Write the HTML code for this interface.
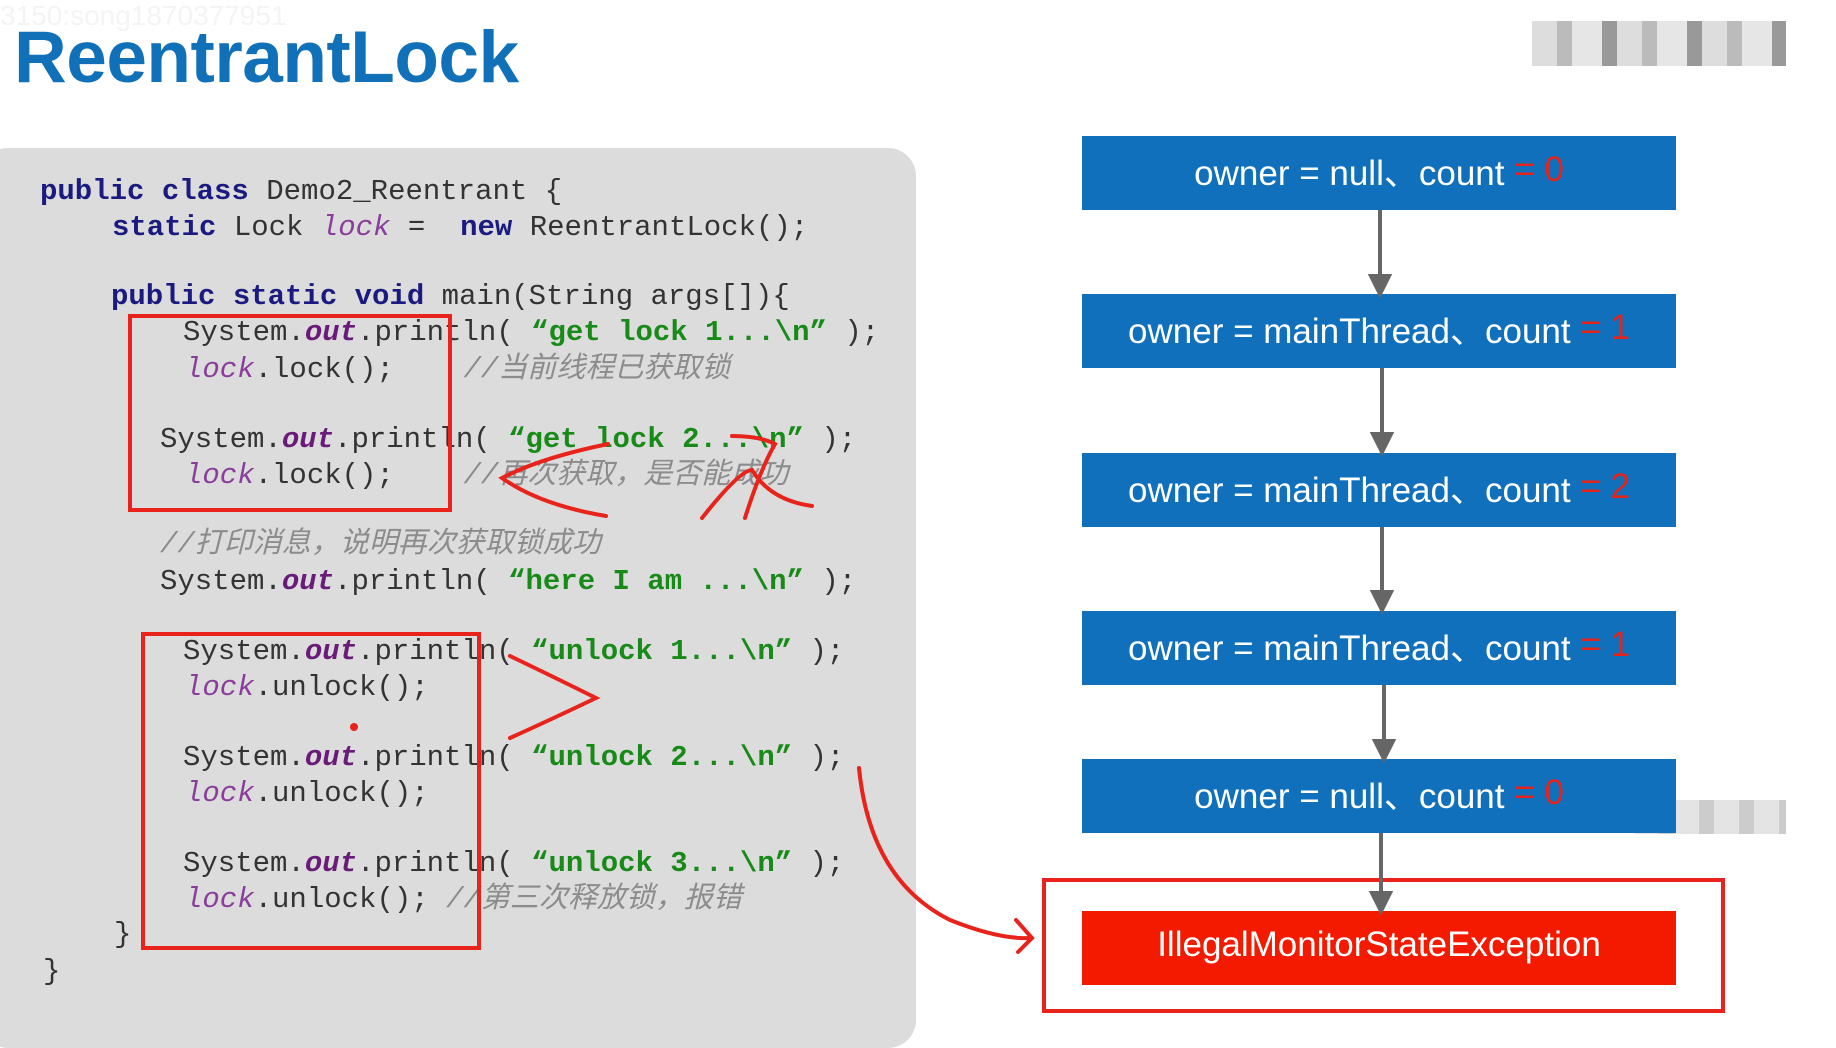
<!DOCTYPE html>
<html><head><meta charset="utf-8"><style>
body{margin:0;width:1836px;height:1015px;background:#fff;position:relative;overflow:hidden;font-family:"Liberation Sans","Noto Sans CJK SC",sans-serif}
.t{position:absolute;left:14px;top:16px;font-size:73px;font-weight:bold;color:#1070b8;letter-spacing:-0.5px}
.panel{position:absolute;left:-20px;top:148px;width:936px;height:900px;background:#dcdcdc;border-radius:28px}
.c{position:absolute;font-family:"Liberation Mono","Noto Sans CJK SC",monospace;font-size:29px;color:#333;white-space:pre;line-height:36px;transform:translateY(-16px)}
.k{color:#1a1a80;font-weight:bold}
.o{color:#6a1b7a;font-weight:bold;font-style:italic}
.l{color:#8a3d9a;font-style:italic}
.s{color:#188a18;font-weight:bold}
.m{color:#8c8c8c;font-style:italic}
.b{position:absolute;left:1082px;width:594px;height:74px;background:#1070bc;color:#fff;font-size:35px;display:flex;align-items:center;justify-content:center;font-family:"Liberation Sans","Noto Sans CJK SC",sans-serif;box-sizing:border-box;padding-bottom:6px}
.b span{color:#e8231b}
.rb{position:absolute;border:4px solid #e8231b}
</style></head><body>
<div style="position:absolute;left:0;top:0;font-size:28px;color:#f4f4f4">3150:song1870377951</div>
<div class="t">ReentrantLock</div>
<div style="position:absolute;left:1532px;top:21px;width:254px;height:45px;background:repeating-linear-gradient(90deg,#ddd 0 25px,#bbb 25px 40px,#e6e6e6 40px 70px,#999 70px 85px)"></div>
<div style="position:absolute;left:1634px;top:800px;width:152px;height:34px;background:repeating-linear-gradient(90deg,#e4e4e4 0 25px,#ccc 25px 40px)"></div>
<div class="panel"></div>
<div class="c" style="left:40px;top:190px"><span class="k">public class</span> Demo2_Reentrant {</div>
<div class="c" style="left:112px;top:226px"><span class="k">static</span> Lock <span class="l">lock</span> =  <span class="k">new</span> ReentrantLock();</div>
<div class="c" style="left:111px;top:295px"><span class="k">public static void</span> main(String args[]){</div>
<div class="c" style="left:183px;top:331px">System.<span class="o">out</span>.println( <span class="s">“get lock 1...\n”</span> );</div>
<div class="c" style="left:185px;top:368px"><span class="l">lock</span>.lock();    <span class="m">//当前线程已获取锁</span></div>
<div class="c" style="left:160px;top:438px">System.<span class="o">out</span>.println( <span class="s">“get lock 2...\n”</span> );</div>
<div class="c" style="left:185px;top:474px"><span class="l">lock</span>.lock();    <span class="m">//再次获取，是否能成功</span></div>
<div class="c" style="left:160px;top:543px"><span class="m">//打印消息，说明再次获取锁成功</span></div>
<div class="c" style="left:160px;top:580px">System.<span class="o">out</span>.println( <span class="s">“here I am ...\n”</span> );</div>
<div class="c" style="left:183px;top:650px">System.<span class="o">out</span>.println( <span class="s">“unlock 1...\n”</span> );</div>
<div class="c" style="left:185px;top:686px"><span class="l">lock</span>.unlock();</div>
<div class="c" style="left:183px;top:756px">System.<span class="o">out</span>.println( <span class="s">“unlock 2...\n”</span> );</div>
<div class="c" style="left:185px;top:792px"><span class="l">lock</span>.unlock();</div>
<div class="c" style="left:183px;top:862px">System.<span class="o">out</span>.println( <span class="s">“unlock 3...\n”</span> );</div>
<div class="c" style="left:185px;top:898px"><span class="l">lock</span>.unlock(); <span class="m">//第三次释放锁，报错</span></div>
<div class="c" style="left:114px;top:933px">}</div>
<div class="c" style="left:43px;top:970px">}</div>
<div class="rb" style="left:128px;top:314px;width:316px;height:190px"></div>
<div class="rb" style="left:141px;top:632px;width:332px;height:310px"></div>
<div class="b" style="top:136px">owner = null、count <span>&nbsp;= 0</span></div>
<div class="b" style="top:294px">owner = mainThread、count <span>&nbsp;= 1</span></div>
<div class="b" style="top:453px">owner = mainThread、count <span>&nbsp;= 2</span></div>
<div class="b" style="top:611px">owner = mainThread、count <span>&nbsp;= 1</span></div>
<div class="b" style="top:759px">owner = null、count <span>&nbsp;= 0</span></div>
<div class="b" style="top:911px;background:#f41a00">IllegalMonitorStateException</div>
<div class="rb" style="left:1042px;top:878px;width:675px;height:127px"></div>
<svg width="1836" height="1015" style="position:absolute;left:0;top:0">
<g stroke="#666" stroke-width="4" fill="#666">
<line x1="1380" y1="210" x2="1380" y2="280"/><polygon points="1371,276 1389,276 1380,294"/>
<line x1="1382" y1="368" x2="1382" y2="438"/><polygon points="1373,434 1391,434 1382,452"/>
<line x1="1382" y1="527" x2="1382" y2="596"/><polygon points="1373,592 1391,592 1382,610"/>
<line x1="1384" y1="685" x2="1384" y2="745"/><polygon points="1375,741 1393,741 1384,759"/>
<line x1="1381" y1="833" x2="1381" y2="897"/><polygon points="1372,893 1390,893 1381,911"/>
</g>
<g stroke="#e8231b" stroke-width="4" fill="none" stroke-linecap="round">
<path d="M608,444 Q540,458 502,478 Q540,505 606,516"/>
<path d="M732,436 Q760,436 775,444 Q760,470 745,518 M702,518 Q740,470 752,470 Q770,500 812,506"/>
<path d="M510,656 Q560,680 596,698 Q550,720 510,738"/>
<path d="M859,768 Q870,880 950,920 Q1000,940 1032,938 M1016,920 L1032,938 L1018,952"/>
<circle cx="354" cy="727" r="2" fill="#e8231b"/>
</g>
</svg>
</body></html>
